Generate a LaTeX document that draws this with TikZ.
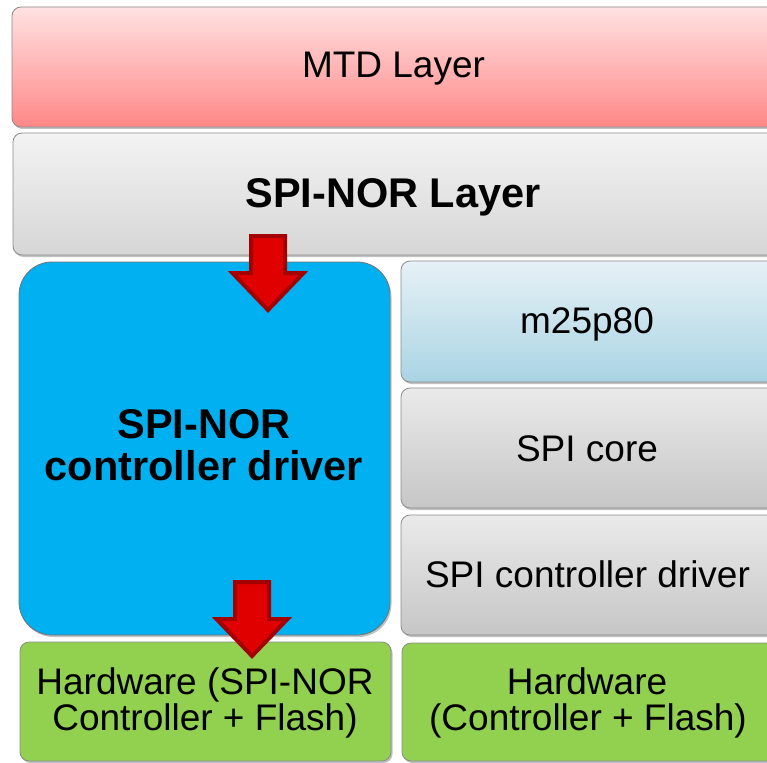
\documentclass[tikz,border=0pt]{standalone}
\usepackage{fontspec}
\setmainfont{Liberation Sans}
\usetikzlibrary{shadows}

\definecolor{mtdtop}{HTML}{FFE2E2}
\definecolor{mtdbot}{HTML}{FF8787}
\definecolor{greytop}{HTML}{F3F3F3}
\definecolor{greybot}{HTML}{D6D6D6}
\definecolor{coretop}{HTML}{EAEAEA}
\definecolor{corebot}{HTML}{C6C6C6}
\definecolor{m25top}{HTML}{E6F1F6}
\definecolor{m25bot}{HTML}{A9D4E3}
\definecolor{ctrlblue}{HTML}{00B0F0}
\definecolor{hwgreen}{HTML}{92D050}
\definecolor{arrowfill}{HTML}{E00000}
\definecolor{arrowedge}{HTML}{A30000}
\definecolor{boxedge}{HTML}{8A8A8A}

\tikzset{
  layerbox/.style={draw=boxedge, line width=0.8pt, rounded corners=9pt,
    inner sep=0pt, outer sep=0pt,
    drop shadow={shadow xshift=1.5pt, shadow yshift=-2pt, opacity=0.35, fill=black!70}},
  regtext/.style={inner sep=0pt, anchor=base, font=\fontsize{37}{37}\selectfont},
  boldtext/.style={inner sep=0pt, anchor=base, font=\fontsize{41.5}{41.5}\selectfont\bfseries},
  pics/downarrow/.style={code={
    \path[fill=arrowfill, draw=arrowedge, line width=4pt, line join=miter]
      (-17,-77) -- (17,-77) -- (17,-40) -- (35.5,-40) -- (0,-3)
      -- (-35.5,-40) -- (-17,-40) -- cycle;
  }}
}

\begin{document}
\begin{tikzpicture}[x=1pt, y=-1pt]
  \useasboundingbox (0,0) rectangle (767,762);
  \clip (0,0) rectangle (767,762);

  % layer boxes
  \node[layerbox, top color=mtdtop, bottom color=mtdbot,
        minimum width=766pt, minimum height=120pt] (mtd) at (395,67) {};
  \node[layerbox, top color=greytop, bottom color=greybot,
        minimum width=765pt, minimum height=122pt] (spinor) at (395.5,194) {};
  \node[layerbox, fill=ctrlblue, draw=black!55, rounded corners=33pt,
        minimum width=371pt, minimum height=373pt] (ctrl) at (204.5,448.5) {};
  \node[layerbox, top color=m25top, bottom color=m25bot,
        minimum width=377pt, minimum height=121pt] (m25) at (589.5,321.5) {};
  \node[layerbox, top color=coretop, bottom color=corebot,
        minimum width=377pt, minimum height=120pt] (core) at (589.5,448) {};
  \node[layerbox, top color=coretop, bottom color=corebot,
        minimum width=377pt, minimum height=120pt] (spictl) at (589.5,575) {};
  \node[layerbox, fill=hwgreen,
        minimum width=371pt, minimum height=119pt] (hwa) at (205.5,701.5) {};
  \node[layerbox, fill=hwgreen,
        minimum width=376pt, minimum height=118pt] (hwb) at (590,702) {};

  % labels
  \node[regtext]  (mtdlabel)    at (393.5,78)  {MTD Layer};
  \node[boldtext] (spinorlabel) at (393,207)   {SPI-NOR Layer};
  \node[boldtext] (ctrllabela)  at (204,438)   {SPI-NOR};
  \node[boldtext] (ctrllabelb)  at (204,480)   {controller driver};
  \node[regtext]  (m25label)    at (587,333)   {m25p80};
  \node[regtext]  (corelabel)   at (587,461)   {SPI core};
  \node[regtext]  (spictllabel) at (587.5,587) {SPI controller driver};
  \node[regtext]  (hwalabela)   at (205,694)   {Hardware (SPI-NOR};
  \node[regtext]  (hwalabelb)   at (205,730)   {Controller + Flash)};
  \node[regtext]  (hwblabela)   at (587,694)   {Hardware};
  \node[regtext]  (hwblabelb)   at (588,730)   {(Controller + Flash)};

  % block arrows: SPI-NOR layer -> controller driver -> hardware
  \coordinate (tipa) at (268,313);
  \coordinate (tipb) at (252,659);
  \pic at (tipa) {downarrow};
  \pic at (tipb) {downarrow};
\end{tikzpicture}
\end{document}
